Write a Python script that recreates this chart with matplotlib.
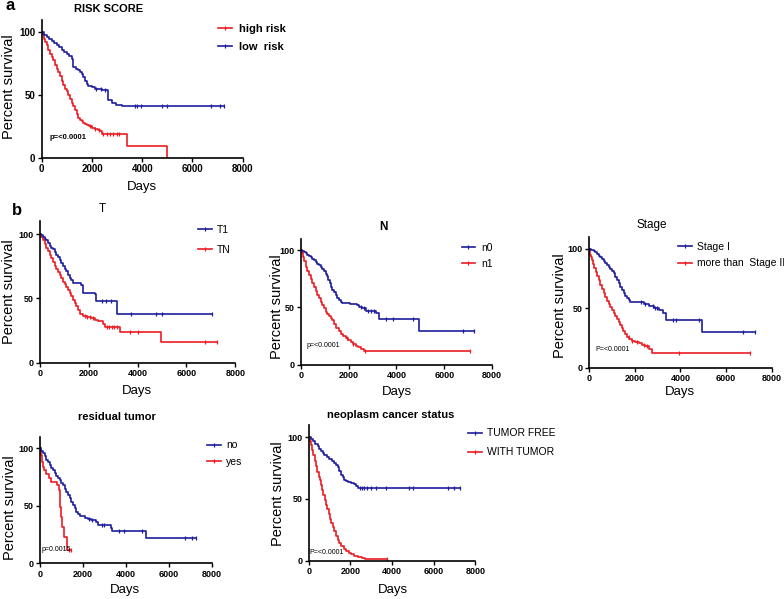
import numpy as np
import matplotlib
matplotlib.use('Agg')
import matplotlib.pyplot as plt
from matplotlib import font_manager

W, H = 784, 599
RED = '#ec1c24'
BLUE = '#1e1e9e'

names = {f.name for f in font_manager.fontManager.ttflist}
plt.rcParams['font.family'] = ['Liberation Sans', 'DejaVu Sans']
NARROW = 'Liberation Sans Narrow' if 'Liberation Sans Narrow' in names else 'Liberation Sans'

# ---- data (days, percent survival) ----
# a: risk score
high_t = [0, 50, 100, 150, 199, 265, 331, 400, 464, 530, 596, 660, 729, 795, 861, 930, 994, 1060, 1126, 1190,
          1259, 1320, 1391, 1460, 1524, 1590, 1656, 1720, 1789, 1900, 1988, 2120, 2250, 2319, 2385, 3380, 4970]
high_s = [100, 98, 95, 92, 90, 86, 83, 80, 78, 74, 71, 68, 65, 61, 58, 55, 53, 50, 47, 44,
          41, 38, 35, 32, 30, 29, 28, 27, 26, 25, 24, 23, 22, 21, 19, 9.3, 0]
high_c = [1920, 2120, 2290, 2450, 2580, 2720, 2850, 2980, 3070]
low_t = [0, 100, 199, 300, 398, 500, 596, 700, 795, 900, 994, 1100, 1193, 1259, 1350, 1458, 1520, 1590, 1650,
         1723, 1790, 1855, 2000, 2120, 2385, 2650, 2783, 2950, 3180, 7260]
low_s = [100, 98, 96.5, 95, 93, 91.5, 90, 88, 86, 84.5, 83, 81, 79, 72, 71, 70, 68, 67, 64,
         61, 59, 57, 56, 55, 54, 46, 44, 42, 41, 41]
low_c = [2150, 2350, 2500, 3700, 3800, 3950, 4800, 4980, 6750, 7100, 7260]

# b: T
t1_t = [0, 70, 136, 200, 273, 340, 409, 480, 545, 610, 682, 750, 818, 890, 954, 1020, 1090, 1160, 1227, 1300,
        1363, 1704, 1772, 2249, 2317, 3162, 7060]
t1_s = [100, 99, 98, 96.5, 95, 93, 91, 89.5, 88, 86, 84, 82, 80, 77.5, 75, 73, 71, 68.5, 66, 64,
        62, 60, 54, 53, 48, 38, 38]
t1_c = [2550, 2700, 2900, 3750, 4770, 5000, 7060]
tn_t = [0, 70, 136, 200, 273, 340, 409, 480, 545, 610, 682, 750, 818, 890, 954, 1020, 1090, 1160, 1227, 1300,
        1363, 1430, 1500, 1570, 1636, 1772, 1950, 2113, 2250, 2385, 2590, 2685, 3271, 4975, 7265]
tn_s = [100, 97.5, 95, 92, 89, 86.5, 84, 81, 78, 75.5, 73, 70.5, 68, 65.5, 63, 61, 59, 56.5, 54, 51.5,
        49, 46.5, 44, 41, 38, 36.5, 35.5, 35, 33.5, 32, 30, 28, 24, 16, 16]
tn_c = [1850, 1950, 2050, 2200, 2750, 2850, 2950, 3050, 3150, 3700, 4000, 6750, 7265]

# b: N
n0_t = [0, 70, 139, 210, 278, 350, 418, 490, 557, 625, 696, 765, 835, 905, 974, 1040, 1114, 1160, 1211, 1270,
        1322, 1390, 1462, 1530, 1601, 1670, 1740, 2050, 2366, 2450, 2575, 2714, 3132, 3271, 4942, 7238]
n0_s = [100, 99, 98, 97, 95.6, 94.5, 93.6, 92.3, 91, 89.5, 88, 86.7, 85.5, 83.8, 82, 79.5, 77, 74, 71, 68,
        65, 63, 61, 58.5, 56, 54.5, 53.5, 52.7, 52, 50.5, 49, 47, 45, 39.5, 29, 29]
n0_c = [2500, 2650, 2800, 2950, 3050, 3550, 3850, 4700, 6780, 7238]
n1_t = [0, 50, 97, 150, 209, 280, 348, 420, 487, 555, 626, 695, 765, 835, 905, 975, 1044, 1110, 1183, 1250,
        1322, 1400, 1489, 1580, 1670, 1770, 1879, 1980, 2088, 2190, 2297, 2400, 2505, 2645, 7071]
n1_s = [100, 97, 94, 90, 85.5, 81.5, 78, 74.5, 71, 67.5, 64, 61, 58, 55, 52, 49, 46, 44, 42.4, 40.7,
        39, 35.5, 32, 29.5, 27, 25, 23, 21.5, 20, 18.3, 16.6, 15.3, 14, 12, 12]
n1_c = [1950, 2200, 2700, 7071]

# b: Stage
s1_t = [0, 110, 218, 290, 363, 435, 508, 580, 653, 725, 799, 870, 944, 1015, 1089, 1160, 1234, 1305, 1379, 1450,
        1525, 1600, 1670, 1740, 1815, 2251, 2430, 2614, 2830, 3049, 3238, 3368, 4937, 7260]
s1_s = [100, 99.3, 98.6, 97.3, 96, 94.5, 93, 91.5, 90, 88.3, 86.5, 84.8, 83, 81.3, 79.5, 76.8, 74, 71, 68, 65.5,
        63, 60.7, 58.4, 57, 55.6, 55, 53.5, 52, 50.3, 48.5, 46, 40, 30, 30]
s1_c = [2300, 2450, 2800, 2900, 3000, 3700, 3800, 4800, 6720, 7260]
s2_t = [0, 36, 73, 110, 145, 195, 247, 305, 363, 435, 508, 580, 653, 725, 799, 870, 944, 1015, 1089, 1160,
        1234, 1305, 1379, 1440, 1496, 1580, 1670, 1780, 1888, 2030, 2178, 2320, 2468, 2614, 2759, 7042]
s2_s = [100, 97.5, 95, 93, 91, 87.5, 84, 80.5, 77, 73.5, 70, 66.5, 63, 59.5, 56, 53.5, 51, 48.5, 46, 43.5,
        41, 38.5, 36, 33.5, 31, 28.5, 26, 24, 22.5, 21.5, 20.5, 19.2, 18, 15.4, 12.6, 12.6]
s2_c = [1750, 1900, 2100, 2400, 2550, 3960, 7042]

# b: residual tumor
no_t = [0, 80, 155, 230, 310, 390, 465, 540, 620, 700, 775, 850, 930, 1010, 1085, 1160, 1240, 1320, 1395, 1470,
        1550, 1630, 1705, 1780, 1860, 2093, 2250, 2403, 2635, 2713, 3302, 3364, 4960, 7285]
no_s = [100, 98, 95.7, 93, 90, 87.7, 85.5, 83.2, 81, 78.5, 76, 74, 72, 70, 68, 65, 62, 59.2, 56.5, 53.7,
        51, 48, 45, 43, 41, 39.7, 38.7, 37.7, 36, 33, 31, 28, 22, 22]
no_c = [2300, 2450, 2900, 3000, 3700, 3900, 4750, 6750, 7100, 7285]
yes_t = [0, 46, 109, 150, 186, 310, 419, 543, 806, 884, 946, 1000, 1039, 1116, 1287, 1473]
yes_s = [100, 94, 88, 84, 81, 78, 74, 71, 68, 64, 49, 40, 32, 22.6, 11.6, 11.6]
yes_c = [1380, 1473]

# b: neoplasm cancer status
free_t = [0, 100, 192, 310, 432, 510, 592, 670, 752, 870, 992, 1110, 1232, 1310, 1392, 1470, 1552, 1630, 1712,
          1792, 1872, 2030, 2192, 2270, 2352, 7264]
free_s = [100, 98.5, 96.8, 94.7, 92.7, 90.6, 88.6, 87.3, 86, 84.3, 82.7, 80.8, 79, 77.3, 75.7, 72.7, 69.7, 67.7, 65.7,
          64.7, 63.8, 62.9, 62, 60.5, 59, 59]
free_c = [2450, 2550, 2650, 2800, 3000, 3250, 3700, 4800, 5000, 6700, 6950, 7264]
with_t = [0, 56, 112, 168, 224, 290, 352, 416, 480, 536, 592, 648, 704, 768, 832, 896, 960, 1024, 1088, 1160,
          1232, 1312, 1392, 1472, 1552, 1672, 1792, 1912, 2032, 2192, 2352, 2536, 2720, 3744]
with_s = [100, 97, 94, 90, 86, 81, 76.5, 72, 68, 65, 61.6, 57.5, 53.5, 49.5, 45.4, 41.6, 37.8, 34, 30.5, 27,
          23.8, 20.4, 17, 14.3, 11.6, 9.6, 7.6, 6.5, 5.4, 4.2, 3, 2.2, 1.4, 1.4]
with_c = [3744]


def km(ax, t, s, cens, color):
    t = np.asarray(t, float)
    s = np.asarray(s, float)
    ax.step(t, s, where='post', color=color, lw=1.2)
    idx = np.searchsorted(t, cens, side='right') - 1
    ax.plot(cens, s[idx], ls='none', marker='|', ms=3.5, mew=0.9, color=color, clip_on=False)


def make_axes(fig, x0, x8000, y0, per, fs=6.5):
    top = y0 - 110 * per
    ax = fig.add_axes([x0 / W, 1 - y0 / H, (x8000 - x0) / W, (y0 - top) / H])
    ax.set_xlim(0, 8000)
    ax.set_ylim(0, 110)
    ax.set_xticks([0, 2000, 4000, 6000, 8000])
    ax.set_yticks([0, 50, 100])
    for sp in ['top', 'right']:
        ax.spines[sp].set_visible(False)
    for sp in ['left', 'bottom']:
        ax.spines[sp].set_linewidth(1.2)
    ax.tick_params(length=3, width=1, labelsize=fs, pad=1.5)
    for lab in ax.get_xticklabels() + ax.get_yticklabels():
        lab.set_fontweight('bold')
    return ax


def legend(ax, labels, x, y, fs, bold=False, family='Liberation Sans', spacing=0.5):
    handles = [plt.Line2D([], [], color=c, lw=1.2, marker='|', ms=3.5, mew=0.9) for _, c in labels]
    leg = ax.legend(handles, [l[0] for l in labels], loc='upper left',
                    bbox_to_anchor=(x / W, 1 - y / H), bbox_transform=fig.transFigure,
                    frameon=False, numpoints=1, handlelength=1.3, handletextpad=0.55,
                    borderpad=0, borderaxespad=0, labelspacing=spacing,
                    prop={'size': fs, 'weight': 'bold' if bold else 'normal', 'family': family})
    return leg


def ftext(x, y, s, **kw):
    fig.text(x / W, 1 - y / H, s, ha='center', va='center', **kw)


fig = plt.figure(figsize=(W / 100, H / 100), dpi=100)

# panel a
ax = make_axes(fig, 41.7, 242.7, 157.7, 1.254, fs=7)
km(ax, high_t, high_s, high_c, RED)
km(ax, low_t, low_s, low_c, BLUE)
legend(ax, [('high risk', RED), ('low  risk', BLUE)], 218, 24, 8, bold=True, spacing=0.71)
ax.text(330, 16.5, 'p=<0.0001', fontsize=5.5, fontweight='bold', va='center')
ftext(109, 9, 'RISK SCORE', fontsize=8, fontweight='bold')
ftext(9, 87, 'Percent survival', fontsize=10.5, rotation=90)
ftext(142, 187, 'Days', fontsize=9.5)
ftext(10, 6, 'a', fontsize=12, fontweight='bold')

# T
ax = make_axes(fig, 39.7, 235.3, 362.6, 1.286)
km(ax, tn_t, tn_s, tn_c, RED)
km(ax, t1_t, t1_s, t1_c, BLUE)
legend(ax, [('T1', BLUE), ('TN', RED)], 198, 225, 7.5, family=NARROW, spacing=0.92)
ftext(102, 209, 'T', fontsize=8.5)
ftext(9, 292, 'Percent survival', fontsize=10.5, rotation=90)
ftext(137, 391, 'Days', fontsize=9.5)
ftext(17, 211, 'b', fontsize=12, fontweight='bold')

# N
ax = make_axes(fig, 300.7, 492.2, 364.7, 1.147)
km(ax, n1_t, n1_s, n1_c, RED)
km(ax, n0_t, n0_s, n0_c, BLUE)
legend(ax, [('n0', BLUE), ('n1', RED)], 461.7, 242.7, 7.5, family=NARROW, spacing=0.6)
ax.text(263, 16.6, 'p=<0.0001', fontsize=5, va='center')
ftext(383, 227, 'N', fontsize=8.5, fontweight='bold')
ftext(277, 307, 'Percent survival', fontsize=10.5, rotation=90)
ftext(397, 392, 'Days', fontsize=9.5)

# Stage
ax = make_axes(fig, 588.7, 772.0, 367.7, 1.187)
km(ax, s2_t, s2_s, s2_c, RED)
km(ax, s1_t, s1_s, s1_c, BLUE)
legend(ax, [('Stage I', BLUE), ('more than  Stage II', RED)], 678, 242, 7.5, family=NARROW, spacing=0.6)
ax.text(274, 15, 'P=<0.0001', fontsize=5, va='center')
ftext(652, 225, 'Stage', fontsize=8.5)
ftext(560, 306, 'Percent survival', fontsize=10.5, rotation=90)
ftext(680, 392, 'Days', fontsize=9.5)

# residual tumor
ax = make_axes(fig, 39.7, 211.7, 563.3, 1.15)
km(ax, yes_t, yes_s, yes_c, RED)
km(ax, no_t, no_s, no_c, BLUE)
legend(ax, [('no', BLUE), ('yes', RED)], 207, 440.5, 7.5, family=NARROW, spacing=0.63)
ax.text(93, 12.4, 'p=0.0015', fontsize=5, va='center')
ftext(117, 417, 'residual tumor', fontsize=8, fontweight='bold')
ftext(10, 508, 'Percent survival', fontsize=10.5, rotation=90)
ftext(125, 590, 'Days', fontsize=9.5)

# neoplasm cancer status
ax = make_axes(fig, 308.7, 475.4, 560.7, 1.234)
km(ax, with_t, with_s, with_c, RED)
km(ax, free_t, free_s, free_c, BLUE)
legend(ax, [('TUMOR FREE', BLUE), ('WITH TUMOR', RED)], 468, 428.5, 7.5, family=NARROW, spacing=0.83)
ax.text(20, 6.5, 'P=<0.0001', fontsize=5, va='center')
ftext(391, 415, 'neoplasm cancer status', fontsize=8, fontweight='bold')
ftext(278, 494, 'Percent survival', fontsize=10.5, rotation=90)
ftext(393, 590, 'Days', fontsize=9.5)

fig.savefig('out.png', dpi=100)
